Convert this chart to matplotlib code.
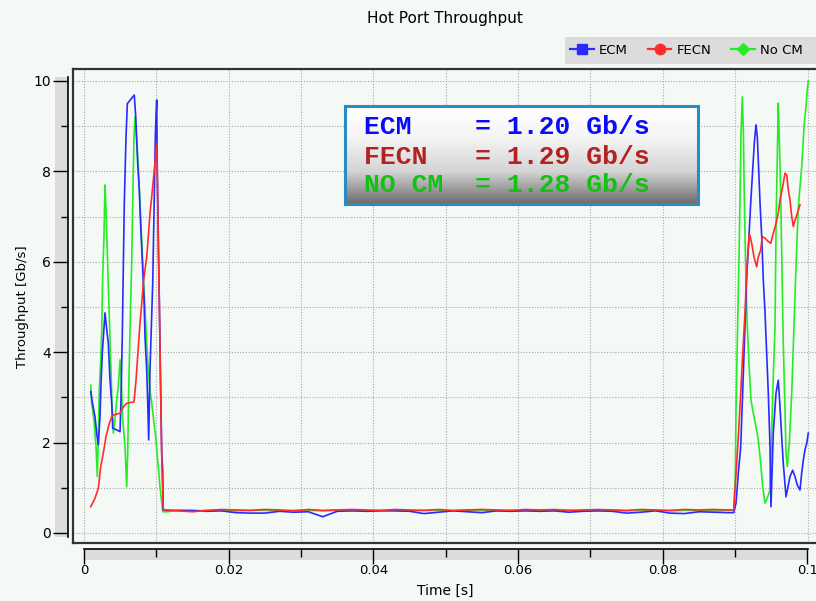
import numpy as np
import matplotlib
matplotlib.use("Agg")
import matplotlib.pyplot as plt
from matplotlib.patches import Rectangle
from matplotlib.lines import Line2D
from matplotlib.ticker import MultipleLocator, FuncFormatter
from matplotlib.colors import LinearSegmentedColormap

# ---------------- data ----------------
# first burst, t in seconds
ecm_t1 = [0.00093, 0.00118, 0.00152, 0.00176, 0.00198, 0.00221, 0.00235, 0.00253, 0.00281, 0.00290,
          0.00314, 0.00336, 0.00359, 0.00383, 0.00397, 0.00452, 0.00498, 0.00511, 0.00529, 0.00543,
          0.00557, 0.00581, 0.00599, 0.00695, 0.00715, 0.00742, 0.00764, 0.00784, 0.00811, 0.00829,
          0.00843, 0.00867, 0.00880, 0.00894, 0.00903, 0.00912, 0.00926, 0.00950, 0.00968, 0.00986,
          0.00995, 0.01005, 0.01013, 0.01027, 0.01041, 0.01060, 0.01074, 0.01088, 0.01096]
ecm_v1 = [3.13, 2.87, 2.57, 2.20, 1.95, 2.57, 3.30, 3.98, 4.64, 4.87,
          4.50, 4.20, 3.40, 2.87, 2.32, 2.28, 2.24, 2.94, 4.34, 5.82,
          7.30, 8.77, 9.50, 9.69, 9.21, 8.18, 7.59, 6.78, 5.82, 5.23,
          4.34, 3.60, 2.94, 2.06, 2.87, 3.60, 4.34, 5.53, 7.15, 8.77,
          9.21, 9.58, 8.03, 6.56, 5.08, 3.24, 1.77, 1.39, 0.51]

fecn_t1 = [0.00093, 0.00152, 0.00198, 0.00231, 0.00267, 0.00304, 0.00350, 0.00383, 0.00405, 0.00498,
           0.00543, 0.00590, 0.00691, 0.00719, 0.00751, 0.00774, 0.00798, 0.00820, 0.00843, 0.00867,
           0.00889, 0.00912, 0.00936, 0.00958, 0.00981, 0.01005, 0.01013, 0.01027, 0.01041, 0.01060,
           0.01078, 0.01096]
fecn_v1 = [0.58, 0.77, 0.99, 1.47, 1.77, 2.13, 2.43, 2.57, 2.61, 2.65,
           2.79, 2.87, 2.90, 3.38, 4.12, 4.64, 5.08, 5.53, 5.82, 6.11,
           6.56, 7.07, 7.44, 7.81, 8.18, 8.62, 8.03, 6.33, 5.08, 3.02,
           1.39, 0.51]

nocm_t1 = [0.00093, 0.00106, 0.00138, 0.00166, 0.00184, 0.00198, 0.00211, 0.00231, 0.00245, 0.00258,
           0.00276, 0.00290, 0.00304, 0.00322, 0.00341, 0.00359, 0.00373, 0.00387, 0.00405, 0.00428,
           0.00452, 0.00474, 0.00498, 0.00511, 0.00535, 0.00567, 0.00590, 0.00604, 0.00618, 0.00636,
           0.00659, 0.00673, 0.00691, 0.00705, 0.00728, 0.00751, 0.00774, 0.00798, 0.00820, 0.00843,
           0.00867, 0.00889, 0.00912, 0.00936, 0.00968, 0.00995, 0.01013, 0.01032, 0.01050, 0.01074,
           0.01088]
nocm_v1 = [3.27, 2.87, 2.50, 1.91, 1.25, 2.13, 3.16, 3.83, 4.49, 5.67,
           6.56, 7.70, 7.15, 6.19, 5.23, 4.34, 3.60, 2.87, 2.21, 2.50,
           2.94, 3.24, 3.83, 3.53, 2.50, 1.91, 1.02, 1.76, 3.16, 4.49,
           5.97, 7.29, 8.77, 9.21, 8.69, 8.10, 7.29, 6.41, 5.67, 4.93,
           4.20, 3.60, 3.16, 2.87, 2.43, 2.06, 1.69, 1.39, 1.02, 0.66,
           0.47]

# quiet middle part
flat_t = [0.0115, 0.013, 0.015, 0.017, 0.019, 0.021, 0.023, 0.025, 0.027, 0.029,
          0.031, 0.033, 0.035, 0.037, 0.039, 0.041, 0.043, 0.045, 0.047, 0.049,
          0.051, 0.053, 0.055, 0.057, 0.059, 0.061, 0.063, 0.065, 0.067, 0.069,
          0.071, 0.073, 0.075, 0.077, 0.079, 0.081, 0.083, 0.085, 0.087, 0.089,
          0.0898]
ecm_flat = [0.50, 0.50, 0.50, 0.48, 0.49, 0.45, 0.44, 0.44, 0.48, 0.46,
            0.47, 0.36, 0.48, 0.49, 0.48, 0.49, 0.49, 0.48, 0.43, 0.46,
            0.49, 0.47, 0.45, 0.49, 0.48, 0.49, 0.48, 0.49, 0.46, 0.48,
            0.49, 0.48, 0.44, 0.46, 0.49, 0.44, 0.43, 0.47, 0.46, 0.45,
            0.45]
fecn_flat = [0.51, 0.49, 0.47, 0.50, 0.52, 0.51, 0.50, 0.52, 0.51, 0.49,
             0.52, 0.50, 0.51, 0.52, 0.51, 0.50, 0.52, 0.51, 0.50, 0.52,
             0.50, 0.51, 0.52, 0.51, 0.50, 0.52, 0.51, 0.52, 0.50, 0.51,
             0.52, 0.51, 0.50, 0.52, 0.51, 0.50, 0.52, 0.51, 0.52, 0.51,
             0.51]
nocm_flat = [0.47, 0.50, 0.49, 0.50, 0.50, 0.49, 0.50, 0.50, 0.49, 0.50,
             0.50, 0.49, 0.50, 0.50, 0.49, 0.50, 0.50, 0.49, 0.50, 0.50,
             0.49, 0.50, 0.50, 0.49, 0.50, 0.50, 0.49, 0.50, 0.50, 0.49,
             0.50, 0.50, 0.49, 0.50, 0.50, 0.49, 0.50, 0.50, 0.49, 0.50,
             0.50]

# second burst
ecm_t2 = [0.09012, 0.09044, 0.09077, 0.09104, 0.09136, 0.09160, 0.09191, 0.09215, 0.09243, 0.09265,
          0.09288, 0.09306, 0.09320, 0.09344, 0.09367, 0.09389, 0.09413, 0.09436, 0.09458, 0.09482,
          0.09495, 0.09513, 0.09527, 0.09565, 0.09596, 0.09620, 0.09643, 0.09665, 0.09703, 0.09721,
          0.09758, 0.09795, 0.09827, 0.09859, 0.09896, 0.09920, 0.09942, 0.09965, 0.09989, 0.10011]
ecm_v2 = [0.66, 1.33, 1.91, 3.10, 4.56, 5.67, 6.56, 7.30, 8.03, 8.63,
          9.03, 8.77, 8.25, 7.30, 6.56, 5.60, 4.87, 3.98, 3.10, 1.91,
          0.58, 1.47, 2.21, 3.10, 3.38, 2.79, 2.13, 1.55, 0.80, 0.95,
          1.25, 1.39, 1.25, 1.06, 0.95, 1.33, 1.61, 1.84, 1.98, 2.21]

fecn_t2 = [0.09012, 0.09044, 0.09077, 0.09104, 0.09136, 0.09160, 0.09196, 0.09229, 0.09260, 0.09298,
           0.09320, 0.09353, 0.09375, 0.09413, 0.09458, 0.09492, 0.09527, 0.09565, 0.09596, 0.09620,
           0.09657, 0.09689, 0.09713, 0.09735, 0.09758, 0.09782, 0.09804, 0.09827, 0.09859, 0.09896]
fecn_v2 = [1.32, 2.13, 3.09, 3.97, 4.86, 5.82, 6.63, 6.41, 6.11, 5.89,
           6.11, 6.26, 6.56, 6.52, 6.45, 6.41, 6.63, 6.85, 7.07, 7.37,
           7.66, 7.96, 7.92, 7.59, 7.37, 7.00, 6.78, 6.92, 7.07, 7.26]

nocm_t2 = [0.09002, 0.09012, 0.09030, 0.09049, 0.09067, 0.09081, 0.09099, 0.09113, 0.09127, 0.09146,
           0.09168, 0.09196, 0.09219, 0.09251, 0.09288, 0.09320, 0.09353, 0.09381, 0.09413, 0.09450,
           0.09482, 0.09505, 0.09527, 0.09551, 0.09565, 0.09582, 0.09596, 0.09610, 0.09629, 0.09647,
           0.09665, 0.09689, 0.09703, 0.09721, 0.09748, 0.09782, 0.09813, 0.09841, 0.09873, 0.09920,
           0.09952, 0.09979, 0.09997, 0.10011]
nocm_v2 = [1.25, 2.72, 4.27, 5.75, 7.37, 8.84, 9.65, 8.92, 7.37, 5.82,
           4.56, 3.60, 2.94, 2.65, 2.35, 2.06, 1.54, 1.02, 0.66, 0.80,
           0.95, 2.21, 3.46, 4.56, 6.78, 8.25, 9.51, 8.77, 7.52, 5.89,
           4.20, 2.72, 1.76, 1.47, 1.98, 3.09, 4.56, 5.89, 7.22, 8.10,
           8.99, 9.43, 9.80, 10.00]

series = ["ECM", "FECN", "No CM"]
box_lines = ["ECM    = 1.20 Gb/s", "FECN   = 1.29 Gb/s", "NO CM  = 1.28 Gb/s"]

# ---------------- layout helpers (pixels of the 816x601 picture) ----------------
W, H = 816, 601
BG = "#f4f9f6"


def fx(px):
    return px / W


def fy(py):
    return 1 - py / H


X0_PX, X1_PX = 84.0, 807.5      # where t=0 and t=0.1 sit
Y0_PX, Y10_PX = 533.0, 81.0     # where 0 and 10 Gb/s sit
px_per_s = (X1_PX - X0_PX) / 0.1
px_per_v = (Y0_PX - Y10_PX) / 10.0

fig = plt.figure(figsize=(W / 100, H / 100), dpi=100, facecolor=BG)

# ---------------- main plot ----------------
L, R, T, B = 73, 822, 69, 543
ax = fig.add_axes([fx(L), fy(B), (R - L) / W, (B - T) / H])
ax.set_facecolor(BG)
ax.set_xlim(-(X0_PX - L) / px_per_s, 0.1 + (R - X1_PX) / px_per_s)
ax.set_ylim(-(B - Y0_PX) / px_per_v, 10 + (Y10_PX - T) / px_per_v)
ax.xaxis.set_major_locator(MultipleLocator(0.01))
ax.yaxis.set_major_locator(MultipleLocator(1))
ax.tick_params(length=0, labelbottom=False, labelleft=False)
ax.grid(True, color="#a9a9a9", linestyle=(0, (1, 1.5)), linewidth=0.8)
ax.set_axisbelow(True)
for side in ["left", "top", "bottom"]:
    ax.spines[side].set_color("#333333")
    ax.spines[side].set_linewidth(1.6)
ax.spines["right"].set_visible(False)

c_ecm, c_fecn, c_nocm = "#2a2aff", "#ff2c2c", "#26ec26"
ax.plot(nocm_t1 + flat_t + nocm_t2, nocm_v1 + nocm_flat + nocm_v2, color=c_nocm, lw=1.2)
ax.plot(ecm_t1 + flat_t + ecm_t2, ecm_v1 + ecm_flat + ecm_v2, color=c_ecm, lw=1.2)
ax.plot(fecn_t1 + flat_t + fecn_t2, fecn_v1 + fecn_flat + fecn_v2, color=c_fecn, lw=1.2)

# ---------------- separate y scale (gray strip on the left) ----------------
yt, yb = 77, 537
ys = fig.add_axes([fx(55), fy(yb), 13 / W, (yb - yt) / H])
ys.set_facecolor("#dcdcdc")
ys.set_ylim((Y0_PX - yb) / px_per_v, (Y0_PX - yt) / px_per_v)
ys.set_xticks([])
ys.yaxis.set_major_locator(MultipleLocator(2))
ys.yaxis.set_minor_locator(MultipleLocator(1))
ys.yaxis.set_major_formatter(FuncFormatter(lambda v, p: "%g" % v))
ys.tick_params(axis="y", which="both", left=False, right=True, labelleft=True,
               labelright=False, direction="in", pad=3, labelsize=10)
ys.tick_params(axis="y", which="major", length=11, width=1)
ys.tick_params(axis="y", which="minor", length=5, width=1)
for side in ["left", "top", "bottom"]:
    ys.spines[side].set_visible(False)
ys.spines["right"].set_linewidth(1.2)

# ---------------- separate x scale (gray strip below) ----------------
xt, xb = 549, 560
xs = fig.add_axes([fx(X0_PX), fy(xb), (X1_PX - X0_PX) / W, (xb - xt) / H])
xs.set_facecolor("#dcdcdc")
xs.set_xlim(0, 0.1)
xs.set_yticks([])
xs.xaxis.set_major_locator(MultipleLocator(0.02))
xs.xaxis.set_minor_locator(MultipleLocator(0.01))
xs.xaxis.set_major_formatter(FuncFormatter(lambda v, p: "%g" % round(v, 3)))
xs.tick_params(axis="x", which="both", bottom=False, top=True, labelbottom=True,
               labeltop=False, direction="in", pad=3, labelsize=9.5)
xs.tick_params(axis="x", which="major", length=11, width=1)
xs.tick_params(axis="x", which="minor", length=6, width=1)
for side in ["left", "right", "bottom"]:
    xs.spines[side].set_visible(False)
xs.spines["top"].set_linewidth(1.2)

# ---------------- texts ----------------
fig.text(fx(445), fy(18), "Hot Port Throughput", ha="center", va="center", fontsize=11)
fig.text(fx(445), fy(591), "Time [s]", ha="center", va="center", fontsize=10)
fig.text(fx(23), fy(307), "Throughput [Gb/s]", rotation=90, ha="center", va="center",
         fontsize=9.5)

# ---------------- legend strip ----------------
fig.patches.append(Rectangle((fx(565), fy(63.5)), 1, 27 / H, transform=fig.transFigure,
                             facecolor="#dcdcdc", edgecolor="none", zorder=0))
handles = [Line2D([], [], color=c_ecm, lw=1.6, marker="s", markersize=7),
           Line2D([], [], color=c_fecn, lw=1.6, marker="o", markersize=7.5),
           Line2D([], [], color=c_nocm, lw=1.6, marker="D", markersize=6)]
fig.legend(handles, series, loc="center left", bbox_to_anchor=(fx(570), fy(50.5)),
           ncol=3, frameon=False, fontsize=9.5, handlelength=1.8, handletextpad=0.4,
           columnspacing=1.5, borderpad=0, borderaxespad=0)

# ---------------- average box with gradient ----------------
bx = fig.add_axes([fx(345), fy(204), (698 - 345) / W, (204 - 106) / H])
grad = LinearSegmentedColormap.from_list("g", ["#ffffff", "#f4f4f4", "#d4d4d4", "#6c6c6c"])
bx.imshow(np.linspace(0, 1, 256)[:, None], cmap=grad, aspect="auto",
          extent=[0, 1, 0, 1], origin="upper")
bx.set_xticks([])
bx.set_yticks([])
for sp in bx.spines.values():
    sp.set_color("#2a8cc4")
    sp.set_linewidth(2.2)

box_colors = ["#0a0aff", "#b22222", "#12c212"]
for line, col, base in zip(box_lines, box_colors, [134.5, 163.5, 192]):
    fig.text(fx(364), fy(base), line, color=col, ha="left", va="baseline",
             family=["Liberation Mono", "DejaVu Sans Mono"], fontweight="bold", fontsize=19)

fig.savefig("out.png", dpi=100, facecolor=BG)
